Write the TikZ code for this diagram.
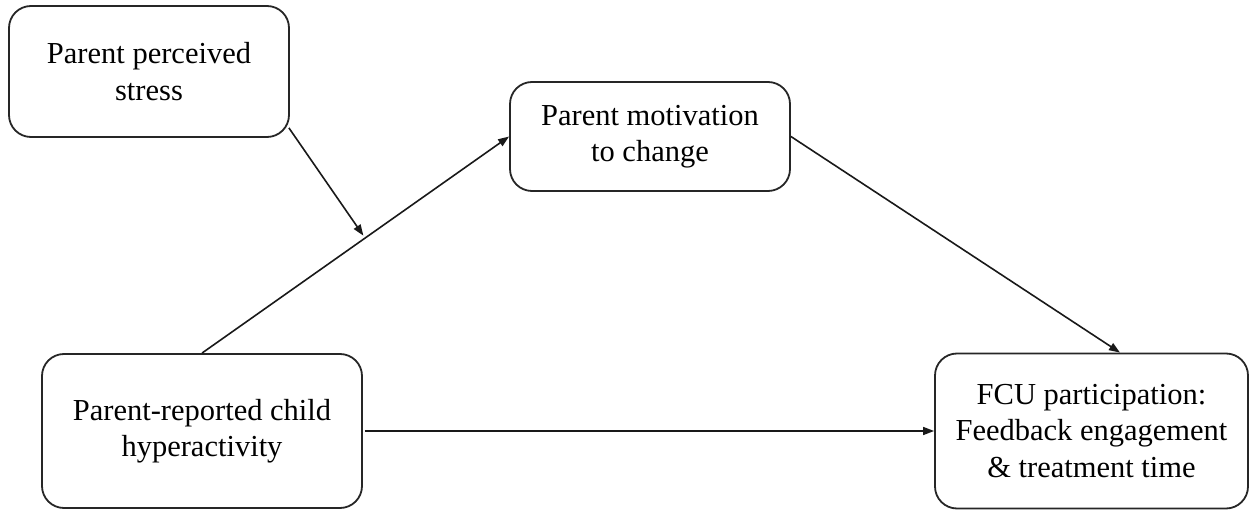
\documentclass[tikz,border=0pt]{standalone}
\usepackage{fontspec}
\setmainfont{Liberation Serif}
\usetikzlibrary{arrows.meta,calc}
\begin{document}
\begin{tikzpicture}[x=1pt,y=-1pt,
  box/.style={draw=black!85,line width=1.8pt,rounded corners=22pt,align=center,
    inner sep=0pt,font=\fontsize{30.5}{36.5}\selectfont},
  conn/.style={draw=black!90,line width=1.6pt,-{Triangle[length=11pt,width=8pt]}}]
\useasboundingbox (0,0) rectangle (1250,510);
\node[box,minimum width=280pt,minimum height=131pt] (stress) at (149,71.5) {Parent perceived\\stress};
\node[box,minimum width=280pt,minimum height=109pt] (mot) at (650,136.5) {Parent motivation\\to change};
\node[box,minimum width=320pt,minimum height=154pt] (hyp) at (202,431) {Parent-reported child\\hyperactivity};
\node[box,minimum width=313pt,minimum height=155pt] (fcu) at (1091.5,431) {FCU participation:\\Feedback engagement\\\& treatment time};
\draw[conn] (hyp.north) -- (mot.west);
\coordinate (mid) at ($(hyp.north)!0.531!(mot.west)$);
\draw[conn,shorten >=3pt] ([xshift=-1pt,yshift=10pt]stress.south east) -- (mid);
\draw[conn] (mot.east) -- ([xshift=28.5pt]fcu.north);
\draw[conn] ([xshift=2pt]hyp.east) -- (fcu.west);
\end{tikzpicture}
\end{document}
